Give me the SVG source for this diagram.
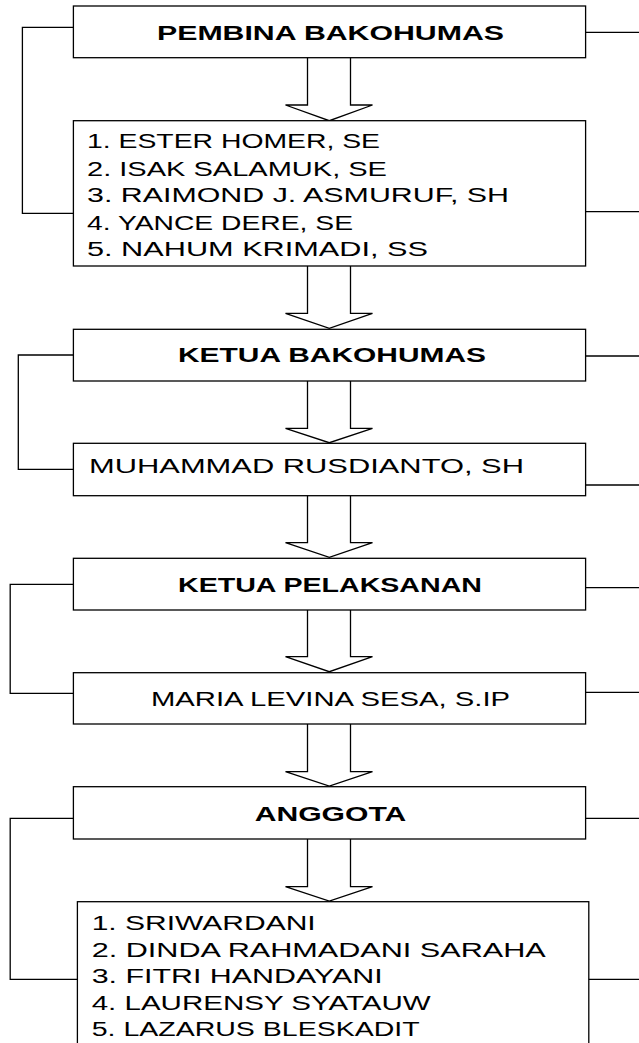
<svg xmlns="http://www.w3.org/2000/svg" width="639" height="1043" viewBox="0 0 639 1043">
<style>
.box{fill:#fff;stroke:#000;stroke-width:1.3}
.arr{fill:#fff;stroke:#000;stroke-width:1.3;stroke-linejoin:miter}
.con{fill:none;stroke:#000;stroke-width:1.3}
.t{font-family:"Liberation Sans",Arial,sans-serif;font-size:19.5px;fill:#000}
.b{font-weight:bold}
</style>
<rect width="639" height="1043" fill="#fff"/>
<g id="connectors">
<path class="con" d="M73.4,27.3H22.4V213.3H73.4"/>
<path class="con" d="M73.4,355H18.3V469.3H73.4"/>
<path class="con" d="M73.4,584.3H10.2V693.3H77.4"/>
<path class="con" d="M73.4,818.3H10.2V979.3H77.4"/>
<path class="con" d="M585.6,32.3H639"/>
<path class="con" d="M585.6,211.7H639"/>
<path class="con" d="M585.6,356H639"/>
<path class="con" d="M585.6,485H639"/>
<path class="con" d="M585.6,587.7H639"/>
<path class="con" d="M585.6,692.3H639"/>
<path class="con" d="M580.7,818.3H639"/>
<path class="con" d="M584.8,979.3H639"/>
<path class="arr" d="M307.5,57.7V105H285.5L329.3,120.7L372.5,105H350.5V57.7"/>
<path class="arr" d="M307.5,266V313.3H285.5L329.3,328.3L372.5,313.3H350.5V266"/>
<path class="arr" d="M307.5,381V428.3H285.5L329.3,442.7L372.5,428.3H350.5V381"/>
<path class="arr" d="M307.5,495.7V542.7H285.5L329.3,557.3L372.5,542.7H350.5V495.7"/>
<path class="arr" d="M307.5,610V656.7H285.5L329.3,671.7L372.5,656.7H350.5V610"/>
<path class="arr" d="M307.5,724V771.7H285.5L329.3,786L372.5,771.7H350.5V724"/>
<path class="arr" d="M307.5,839V886.7H285.5L329.3,901L372.5,886.7H350.5V839"/>
</g>
<g id="pembina">
<rect class="box" x="73.4" y="6" width="512.2" height="51.7"/>
<text class="t b" x="157" y="39.5" textLength="347" lengthAdjust="spacingAndGlyphs">PEMBINA BAKOHUMAS</text>
</g>
<g id="pembina-list">
<rect class="box" x="73.4" y="120.7" width="512.2" height="145.3"/>
<text class="t" x="87" y="148.3" textLength="293" lengthAdjust="spacingAndGlyphs">1. ESTER HOMER, SE</text>
<text class="t" x="87" y="175.5" textLength="300" lengthAdjust="spacingAndGlyphs">2. ISAK SALAMUK, SE</text>
<text class="t" x="87" y="202.3" textLength="422" lengthAdjust="spacingAndGlyphs">3. RAIMOND J. ASMURUF, SH</text>
<text class="t" x="87" y="229.5" textLength="266" lengthAdjust="spacingAndGlyphs">4. YANCE DERE, SE</text>
<text class="t" x="87" y="256" textLength="341" lengthAdjust="spacingAndGlyphs">5. NAHUM KRIMADI, SS</text>
</g>
<g id="ketua-bakohumas">
<rect class="box" x="73.4" y="329.3" width="512.2" height="51.7"/>
<text class="t b" x="178" y="362" textLength="308" lengthAdjust="spacingAndGlyphs">KETUA BAKOHUMAS</text>
</g>
<g id="ketua-bakohumas-name">
<rect class="box" x="73.4" y="443.3" width="512.2" height="52.4"/>
<text class="t" x="89" y="472.5" textLength="435" lengthAdjust="spacingAndGlyphs">MUHAMMAD RUSDIANTO, SH</text>
</g>
<g id="ketua-pelaksanan">
<rect class="box" x="73.4" y="558.3" width="512.2" height="51.7"/>
<text class="t b" x="178" y="592" textLength="304" lengthAdjust="spacingAndGlyphs">KETUA PELAKSANAN</text>
</g>
<g id="ketua-pelaksanan-name">
<rect class="box" x="73.4" y="672.7" width="512.2" height="51.3"/>
<text class="t" x="151" y="706" textLength="359" lengthAdjust="spacingAndGlyphs">MARIA LEVINA SESA, S.IP</text>
</g>
<g id="anggota">
<rect class="box" x="73.4" y="786.7" width="512.2" height="52.3"/>
<text class="t b" x="254.7" y="821" textLength="151.6" lengthAdjust="spacingAndGlyphs">ANGGOTA</text>
</g>
<g id="anggota-list">
<rect class="box" x="77.4" y="901.7" width="511.4" height="160"/>
<text class="t" x="91.7" y="930" textLength="224" lengthAdjust="spacingAndGlyphs">1. SRIWARDANI</text>
<text class="t" x="91.7" y="956.7" textLength="454" lengthAdjust="spacingAndGlyphs">2. DINDA RAHMADANI SARAHA</text>
<text class="t" x="91.7" y="983.3" textLength="291" lengthAdjust="spacingAndGlyphs">3. FITRI HANDAYANI</text>
<text class="t" x="91.7" y="1010" textLength="339" lengthAdjust="spacingAndGlyphs">4. LAURENSY SYATAUW</text>
<text class="t" x="91.7" y="1036" textLength="328" lengthAdjust="spacingAndGlyphs">5. LAZARUS BLESKADIT</text>
</g>
</svg>
